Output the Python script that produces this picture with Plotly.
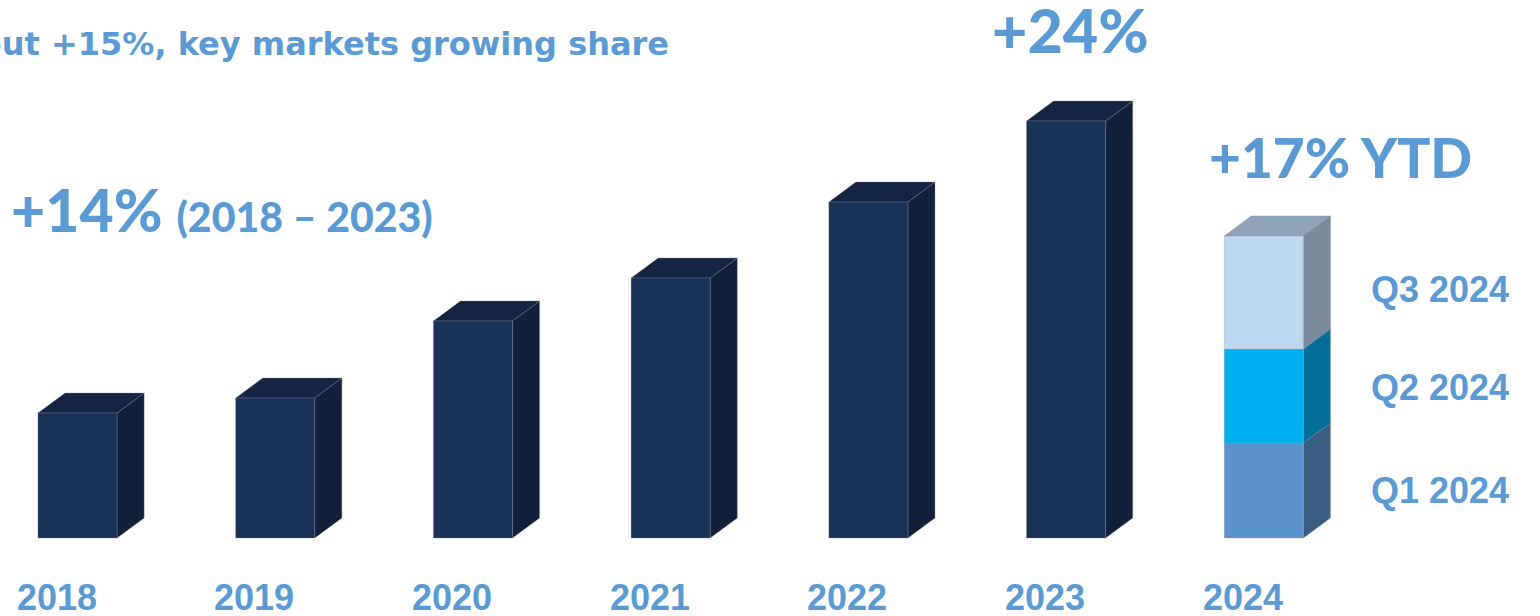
import plotly.graph_objects as go

# Annual volumes (index units) and 2024 quarterly build-up
years = ["2018", "2019", "2020", "2021", "2022", "2023"]
volumes = [125, 140, 217, 260, 336, 417]
quarters = ["Q1 2024", "Q2 2024", "Q3 2024"]
quarter_volumes = [95, 94, 113]
all_years = years + ["2024"]

# Styling
FRONT = "#1B3257"
SIDE = "#12213A"
TOP = "#132541"
Q_FRONT = ["#5A93C9", "#00B0F0", "#BDD7EE"]
Q_SIDE = ["#3A5E82", "#026E99", "#7A8A9A"]
Q_TOP = "#8FA3B8"
Q_LABEL_SHIFT = [0, 9, 3]
LABEL = "#5B9BD5"
EDGE = "rgba(120,130,150,0.6)"

BAR_W = 0.4      # front face width (category units)
DEPTH_X = 0.137  # perspective depth to the right
DEPTH_Y = 20     # perspective depth upward (value units)

fig = go.Figure()
shapes = []


def side_face(i, y0, y1, color):
    x1 = i + BAR_W / 2
    return dict(type="path", xref="x", yref="y", layer="below",
                path=f"M{x1},{y0} L{x1},{y1} L{x1 + DEPTH_X},{y1 + DEPTH_Y} "
                     f"L{x1 + DEPTH_X},{y0 + DEPTH_Y} Z",
                fillcolor=color, line=dict(width=0.6, color=EDGE))


def top_face(i, y, color):
    x0 = i - BAR_W / 2
    x1 = i + BAR_W / 2
    return dict(type="path", xref="x", yref="y", layer="below",
                path=f"M{x0},{y} L{x1},{y} L{x1 + DEPTH_X},{y + DEPTH_Y} "
                     f"L{x0 + DEPTH_X},{y + DEPTH_Y} Z",
                fillcolor=color, line=dict(width=0.6, color=EDGE))


# Annual bars 2018-2023
xs = list(range(len(years)))
fig.add_trace(go.Bar(x=xs, y=volumes, width=BAR_W, marker_color=FRONT,
                     marker_line=dict(width=0.6, color=EDGE),
                     showlegend=False, hoverinfo="skip"))
for i, v in zip(xs, volumes):
    shapes.append(side_face(i, 0, v, SIDE))
    shapes.append(top_face(i, v, TOP))

# Stacked 2024 bar
i24 = len(years)
base = 0
for q, v, fc, sc in zip(quarters, quarter_volumes, Q_FRONT, Q_SIDE):
    fig.add_trace(go.Bar(x=[i24], y=[v], base=[base], width=BAR_W, marker_color=fc,
                         marker_line=dict(width=0.6, color="rgba(150,160,175,0.6)"),
                         name=q, showlegend=False, hoverinfo="skip"))
    shapes.append(side_face(i24, base, base + v, sc))
    base += v
shapes.append(top_face(i24, base, Q_TOP))

annotations = []

# Year labels below the bars
for i, yr in enumerate(all_years):
    annotations.append(dict(x=i, y=-59, xref="x", yref="y", text=yr, showarrow=False,
                            xshift=-21, xanchor="center", yanchor="middle",
                            font=dict(family="Liberation Sans", size=36, color=LABEL,
                                      weight="bold")))

# Quarter labels next to each segment
base = 0
for q, v, dy in zip(quarters, quarter_volumes, Q_LABEL_SHIFT):
    annotations.append(dict(x=i24 + 0.53, y=base + v / 2, xref="x", yref="y", text=q,
                            showarrow=False, xanchor="left", yanchor="middle", yshift=dy,
                            font=dict(family="Liberation Sans", size=36, color=LABEL,
                                      weight="bold")))
    base += v

HEAD = dict(family="Lato", color=LABEL, weight=900)

annotations += [
    dict(x=671 / 1540, y=1 - 44 / 616, xref="paper", yref="paper",
         text="Throughput +15%, key markets growing share", showarrow=False,
         xanchor="right", yanchor="middle",
         font=dict(family="DejaVu Sans", color=LABEL, weight="bold", size=32)),
    dict(x=9 / 1540, y=1 - 210 / 616, xref="paper", yref="paper",
         text="+14% <span style='font-size:41px'>(2018 – 2023)</span>", showarrow=False,
         xanchor="left", yanchor="middle", font=dict(HEAD, size=59)),
    dict(x=990 / 1540, y=1 - 30 / 616, xref="paper", yref="paper",
         text="+24%", showarrow=False,
         xanchor="left", yanchor="middle", font=dict(HEAD, size=61)),
    dict(x=1207 / 1540, y=1 - 157 / 616, xref="paper", yref="paper",
         text="+17% YTD", showarrow=False,
         xanchor="left", yanchor="middle", font=dict(HEAD, size=55)),
]

fig.update_layout(
    width=1540, height=616,
    margin=dict(l=0, r=0, t=0, b=0),
    paper_bgcolor="white", plot_bgcolor="white",
    barmode="overlay",
    shapes=shapes,
    annotations=annotations,
    xaxis=dict(range=[-0.392, 7.397], visible=False, fixedrange=True),
    yaxis=dict(range=[-78, 538], visible=False, fixedrange=True),
)

fig.write_html("out.html")
